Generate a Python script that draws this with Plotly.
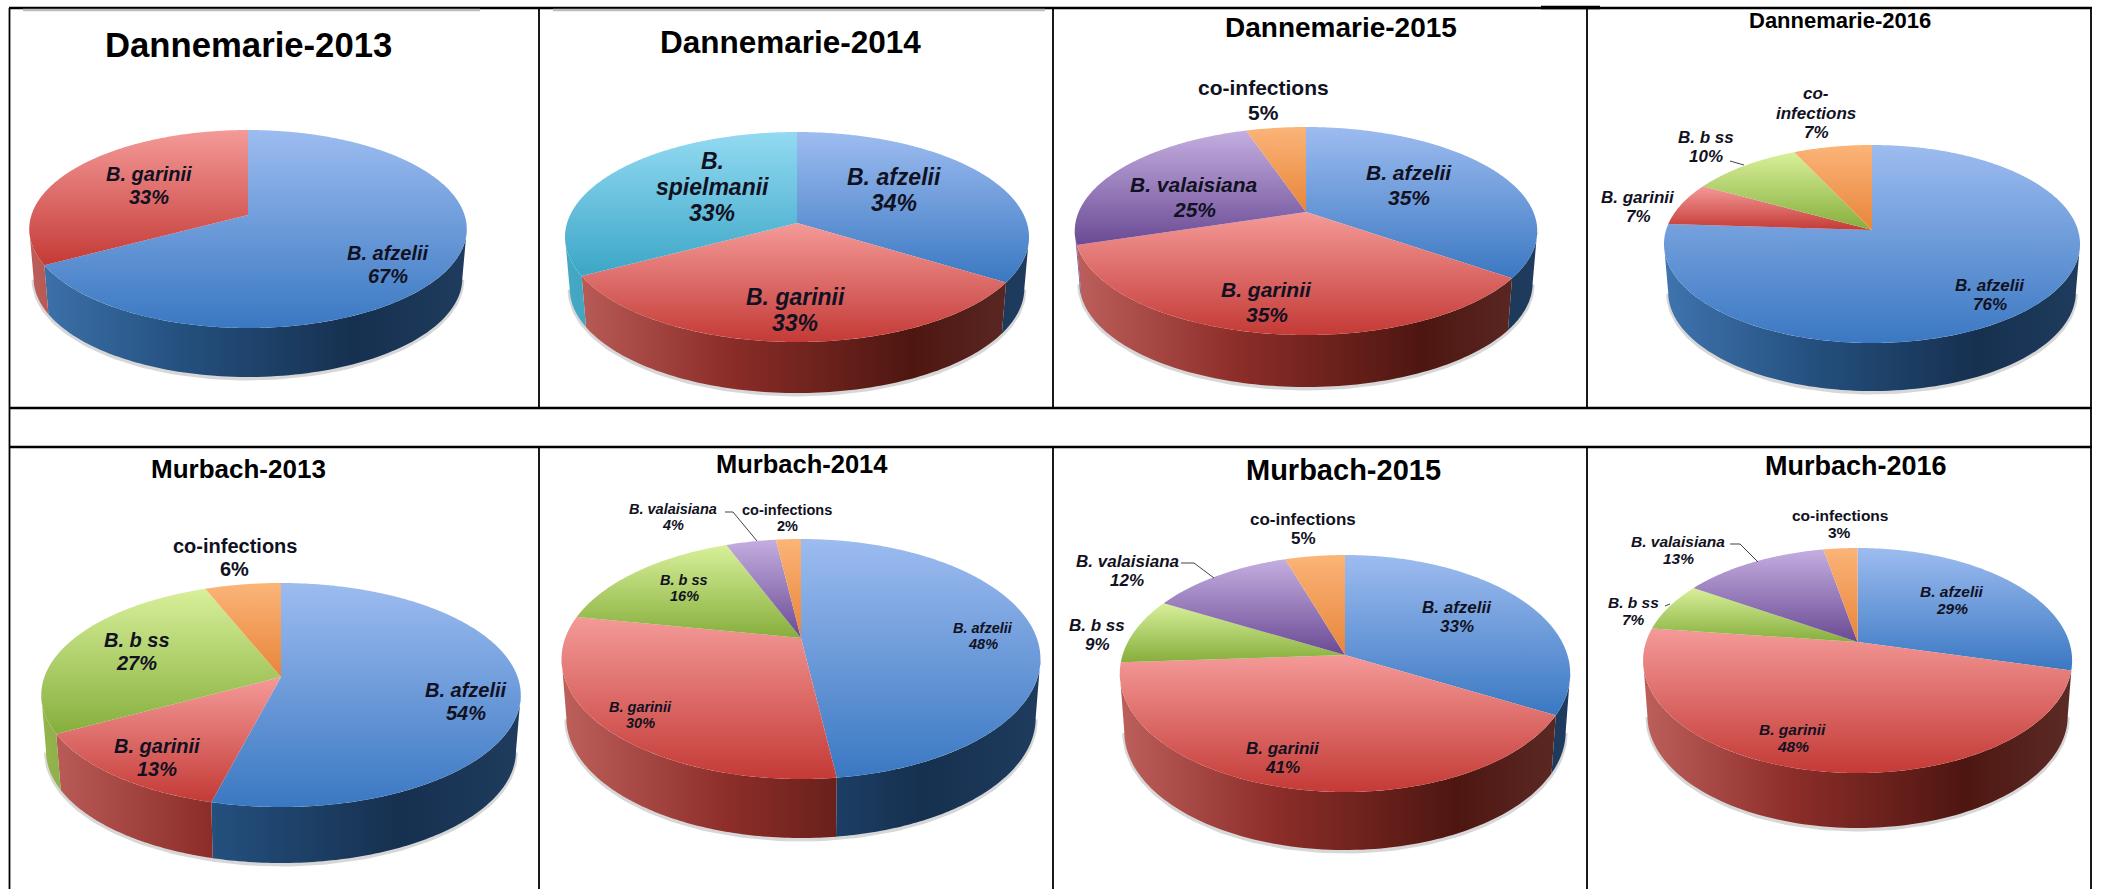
import numpy as np
import plotly.graph_objects as go

# ---------- data ----------
titles = ["Dannemarie-2013", "Dannemarie-2014", "Dannemarie-2015", "Dannemarie-2016",
          "Murbach-2013", "Murbach-2014", "Murbach-2015", "Murbach-2016"]

dannemarie_2013_species = ["B. afzelii", "B. garinii"]
dannemarie_2013_values = [67, 33]
dannemarie_2014_species = ["B. afzelii", "B. garinii", "B. spielmanii"]
dannemarie_2014_values = [34, 33, 33]
dannemarie_2015_species = ["B. afzelii", "B. garinii", "B. valaisiana", "co-infections"]
dannemarie_2015_values = [35, 35, 25, 5]
dannemarie_2016_species = ["B. afzelii", "B. garinii", "B. b ss", "co-infections"]
dannemarie_2016_values = [76, 7, 10, 7]
murbach_2013_species = ["B. afzelii", "B. garinii", "B. b ss", "co-infections"]
murbach_2013_values = [54, 13, 27, 6]
murbach_2014_species = ["B. afzelii", "B. garinii", "B. b ss", "B. valaisiana", "co-infections"]
murbach_2014_values = [48, 30, 16, 4, 2]
murbach_2015_species = ["B. afzelii", "B. garinii", "B. b ss", "B. valaisiana", "co-infections"]
murbach_2015_values = [33, 41, 9, 12, 5]
murbach_2016_species = ["B. afzelii", "B. garinii", "B. b ss", "B. valaisiana", "co-infections"]
murbach_2016_values = [29, 48, 7, 13, 3]

all_species = [dannemarie_2013_species, dannemarie_2014_species, dannemarie_2015_species,
               dannemarie_2016_species, murbach_2013_species, murbach_2014_species,
               murbach_2015_species, murbach_2016_species]
all_values = [dannemarie_2013_values, dannemarie_2014_values, dannemarie_2015_values,
              dannemarie_2016_values, murbach_2013_values, murbach_2014_values,
              murbach_2015_values, murbach_2016_values]

# ---------- layout (pixels of the 2101x889 page) ----------
W, H = 2101, 889
# left, right, top, face bottom, wall bottom, apex x, apex y
GEOM = [
    (28, 465.5, 130, 328, 377, 248, 215),
    (565, 1029, 132, 342, 393, 797, 223),
    (1075.5, 1538, 127, 335, 387, 1306, 212),
    (1665, 2081, 145, 343, 391, 1872, 230),
    (41.5, 521, 583, 807, 863, 281, 677),
    (562.6, 1041.5, 539, 779, 838, 801, 638),
    (1119, 1569.4, 555, 792, 850, 1345, 655),
    (1643, 2072, 548, 773, 828, 1857.6, 642),
]
TITLE_POS = [(248, 45, 34.7), (790, 42, 31.5), (1341, 27, 28), (1839.5, 20, 22),
             (238, 469, 26), (802, 464, 25.5), (1343.6, 470, 29), (1856, 466, 27)]

# per chart: {species: (x, y)}, font size
LABELS = [
    ({"B. afzelii": (388, 264), "B. garinii": (149, 185)}, 20),
    ({"B. afzelii": (894, 190), "B. garinii": (795, 310), "B. spielmanii": (712, 187)}, 23),
    ({"B. afzelii": (1408.6, 185), "B. garinii": (1266.5, 302), "B. valaisiana": (1194, 197),
      "co-infections": (1263, 100)}, 21),
    ({"B. afzelii": (1990, 295), "B. garinii": (1638, 207), "B. b ss": (1705.5, 147),
      "co-infections": (1816, 113)}, 17),
    ({"B. afzelii": (465.5, 701), "B. garinii": (157, 757), "B. b ss": (136.6, 651),
      "co-infections": (234.5, 557)}, 20),
    ({"B. afzelii": (982.6, 636), "B. garinii": (640, 715), "B. b ss": (684, 588),
      "B. valaisiana": (673, 517), "co-infections": (787, 518)}, 14.5),
    ({"B. afzelii": (1457, 617), "B. garinii": (1282.6, 758), "B. b ss": (1097, 635),
      "B. valaisiana": (1127, 571), "co-infections": (1303, 529)}, 17),
    ({"B. afzelii": (1951.5, 600), "B. garinii": (1792.6, 738), "B. b ss": (1633, 611),
      "B. valaisiana": (1678, 550), "co-infections": (1839.6, 524)}, 15.5),
]
LINE_SPACING = 1.15
BOTTOM_RIM_SHRINK = 0.98
LEADERS = [
    ([1730, 1744], [161, 165]),
    ([725, 733, 757], [512, 512, 541]),
    ([1181, 1194, 1214], [563, 563, 578]),
    ([1730, 1740, 1758], [544, 544, 562]),
    ([1665, 1670], [606, 604]),
]

FACE = {
    "B. afzelii": ["#9dbcf0", "#3a78c2"],
    "B. garinii": ["#f49a98", "#c43a36"],
    "B. spielmanii": ["#93daf2", "#3ba6c6"],
    "B. valaisiana": ["#c4aee0", "#6a4a94"],
    "B. b ss": ["#d8f09a", "#86ae3c"],
    "co-infections": ["#fbb478", "#e8853a"],
}
WALL = {
    "B. afzelii": ["#3f74ae", "#24507f", "#16304f", "#1f3c5e"],
    "B. garinii": ["#bd5f5a", "#8c2d29", "#4e1611", "#5c2b26"],
    "B. spielmanii": ["#45a9c6", "#2f8aa6", "#1f6a80", "#24708a"],
    "B. valaisiana": ["#7a5ba0", "#5a3f80", "#3f2a5c", "#473264"],
    "B. b ss": ["#93b54c", "#6f9030", "#557022", "#5c7826"],
    "co-infections": ["#e08a40", "#c06a20", "#985010", "#a05818"],
}


def rim(t_deg, g):
    """Rim point for a clockwise angle from 12 o'clock, seen in perspective."""
    left, right, top, bot, _, ax, ay = g
    a = (right - left) / 2
    b = (bot - top) / 2
    k = ((top + bot) / 2 - ay) / b
    t = np.radians(t_deg)
    u, v = np.sin(t), np.cos(t)
    w = 1 + k * v
    return ax + a * np.sqrt(1 - k * k) * u / w, ay - b * (1 - k * k) * v / w


fig = go.Figure()

for values, species, g in zip(all_values, all_species, GEOM):
    depth = g[4] - g[3]
    mid = (g[0] + g[1]) / 2
    edges = np.cumsum([0] + values) / sum(values) * 360
    # visible wall: between the outermost left and right rim points
    probe = np.linspace(0, 360, 1441)
    px, _ = rim(probe, g)
    vis0, vis1 = probe[np.argmax(px)], probe[np.argmin(px)]

    # soft shadow under the wall
    t = np.linspace(vis0, vis1, 120)
    x, y = rim(t, g)
    fig.add_trace(go.Scatter(x=mid + (x - mid) * BOTTOM_RIM_SHRINK, y=y + depth + 1.5, mode="lines",
                             line=dict(color="rgba(110,110,110,0.28)", width=4),
                             hoverinfo="skip", showlegend=False))
    # walls: one left-to-right sheen across the whole pie
    for name, a0, a1 in zip(species, edges[:-1], edges[1:]):
        lo, hi = max(a0, vis0), min(a1, vis1)
        if hi <= lo:
            continue
        t = np.linspace(lo, hi, 100)
        x, y = rim(t, g)
        xb = mid + (x - mid) * BOTTOM_RIM_SHRINK
        c = WALL[name]
        fig.add_trace(go.Scatter(
            x=np.r_[x, xb[::-1], x[0]], y=np.r_[y, (y + depth)[::-1], y[0]],
            mode="none", fill="toself", hoverinfo="skip", showlegend=False,
            fillgradient=dict(type="horizontal", start=g[0], stop=g[1],
                              colorscale=[[0, c[0]], [0.35, c[1]], [0.75, c[2]], [1, c[3]]])))
    # top faces
    for name, val, a0, a1 in zip(species, values, edges[:-1], edges[1:]):
        t = np.linspace(a0, a1, max(8, int((a1 - a0) * 2)))
        x, y = rim(t, g)
        c = FACE[name]
        fig.add_trace(go.Scatter(
            x=np.r_[g[5], x, g[5]], y=np.r_[g[6], y, g[6]],
            mode="none", fill="toself", name=f"{name} {val}%", showlegend=False,
            fillgradient=dict(type="vertical", colorscale=[[0, c[1]], [1, c[0]]])))

for lx, ly in LEADERS:
    fig.add_trace(go.Scatter(x=lx, y=ly, mode="lines", line=dict(color="#444444", width=1),
                             hoverinfo="skip", showlegend=False))

annotations = []
for title, (tx, ty, ts) in zip(titles, TITLE_POS):
    annotations.append(dict(x=tx, y=ty, text=f"<b>{title}</b>", showarrow=False,
                            font=dict(size=ts, color="#000000")))
WRAP = {"B. spielmanii": ["B.", "spielmanii"]}
for idx, ((pos, size), species, values) in enumerate(zip(LABELS, all_species, all_values)):
    for name, val in zip(species, values):
        lx, ly = pos[name]
        lines = list(WRAP.get(name, [name]))
        italic = name != "co-infections" or idx == 3
        if idx == 3 and name == "co-infections":
            lines = ["co-", "infections"]
        lines.append(f"{val}%")
        step = size * LINE_SPACING
        for i, line in enumerate(lines):
            text = f"<b><i>{line}</i></b>" if italic else f"<b>{line}</b>"
            annotations.append(dict(x=lx, y=ly + (i - (len(lines) - 1) / 2) * step, text=text,
                                    showarrow=False, font=dict(size=size, color="#111122")))

# table rules
shapes = []
RULES_H = [(9, 2092, 8, 2.5), (9, 2092, 408, 2.5), (9, 2092, 447, 2.5), (1541, 1600, 7.5, 3.5)]
RULES_V = [(9.5, 8, 889), (539, 8, 408), (539, 447, 889), (1053, 8, 408), (1053, 447, 889),
           (1587, 8, 408), (1587, 447, 889), (2091, 8, 889)]
for x0, x1, y, w in RULES_H:
    shapes.append(dict(type="line", x0=x0, x1=x1, y0=y, y1=y, line=dict(color="#000000", width=w)))
for x, y0, y1 in RULES_V:
    shapes.append(dict(type="line", x0=x, x1=x, y0=y0, y1=y1, line=dict(color="#000000", width=1.8)))
for x0, x1 in [(23, 480), (553, 1045)]:
    shapes.append(dict(type="line", x0=x0, x1=x1, y0=10, y1=10, line=dict(color="#bdbdbd", width=2.5)))

fig.update_layout(
    width=W, height=H, margin=dict(l=0, r=0, t=0, b=0),
    paper_bgcolor="white", plot_bgcolor="white",
    font=dict(family="Liberation Sans, Arial, sans-serif"),
    xaxis=dict(range=[0, W], visible=False, fixedrange=True),
    yaxis=dict(range=[H, 0], visible=False, fixedrange=True),
    annotations=annotations, shapes=shapes, showlegend=False,
)
fig.write_html("out.html", config={"displayModeBar": False},
               post_script="document.body.style.margin='0';document.documentElement.style.overflow='hidden';")
